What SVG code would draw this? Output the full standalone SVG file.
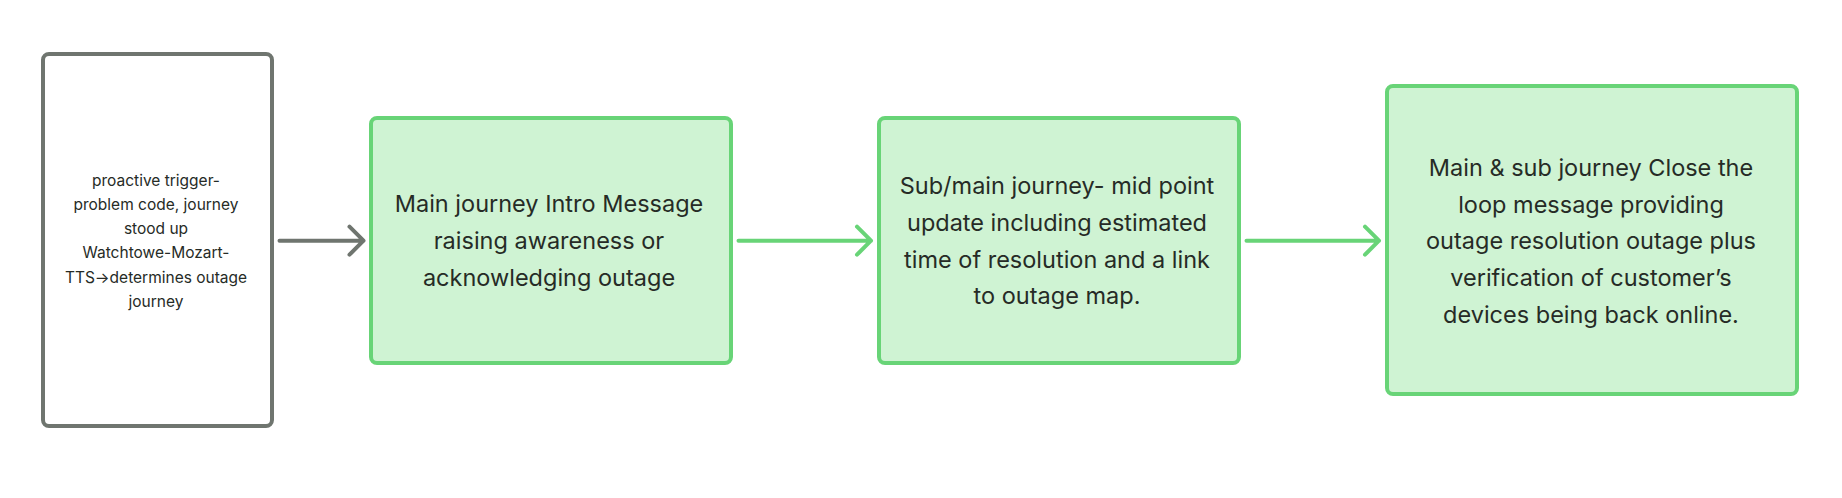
<svg xmlns="http://www.w3.org/2000/svg" width="1842" height="498" viewBox="0 0 1842 498">
<style>
.bg{fill:#ffffff}
.gray{fill:#ffffff;stroke:#6f756f;stroke-width:4}
.green{fill:#cff3d3;stroke:#68d477;stroke-width:4}
.t{font-family:Inter,"Noto Sans",sans-serif;fill:#262b26;text-anchor:middle}
.s{font-size:15.5px}
.l{font-size:23.5px}
.cg{stroke:#6f756f;stroke-width:4;fill:none;stroke-linecap:round;stroke-linejoin:round}
.cgr{stroke:#68d477;stroke-width:4;fill:none;stroke-linecap:round;stroke-linejoin:round}
</style>
<rect class="bg" x="0" y="0" width="1842" height="498"/>
<g id="node-trigger">
<rect class="gray" x="43" y="54" width="229" height="372" rx="6"/>
<text class="t s" x="156" y="185.7">proactive trigger-</text>
<text class="t s" x="156" y="210">problem code, journey</text>
<text class="t s" x="156" y="234.2">stood up</text>
<text class="t s" x="156" y="258.4">Watchtowe-Mozart-</text>
<text class="t s" x="156" y="282.6">TTS→determines outage</text>
<text class="t s" x="156" y="306.8">journey</text>
</g>
<g id="node-intro">
<rect class="green" x="371" y="118" width="360" height="245" rx="6"/>
<text class="t l" x="549" y="212.3">Main journey Intro Message</text>
<text class="t l" x="549" y="249">raising awareness or</text>
<text class="t l" x="549" y="285.7">acknowledging outage</text>
</g>
<g id="node-midpoint">
<rect class="green" x="879" y="118" width="360" height="245" rx="6"/>
<text class="t l" x="1057" y="194.3">Sub/main journey- mid point</text>
<text class="t l" x="1057" y="231">update including estimated</text>
<text class="t l" x="1057" y="267.7">time of resolution and a link</text>
<text class="t l" x="1057" y="304.4">to outage map.</text>
</g>
<g id="node-close">
<rect class="green" x="1387" y="86" width="410" height="308" rx="6"/>
<text class="t l" x="1591" y="176">Main &amp; sub journey Close the</text>
<text class="t l" x="1591" y="212.7">loop message providing</text>
<text class="t l" x="1591" y="249.4">outage resolution outage plus</text>
<text class="t l" x="1591" y="286.1">verification of customer’s</text>
<text class="t l" x="1591" y="322.8">devices being back online.</text>
</g>
<g id="connectors">
<path class="cg" d="M279.5 240.7 H363.5 M349.5 226.7 L363.5 240.7 L349.5 254.7"/>
<path class="cgr" d="M738.5 240.7 H871 M857 226.7 L871 240.7 L857 254.7"/>
<path class="cgr" d="M1246.5 240.7 H1379 M1365 226.7 L1379 240.7 L1365 254.7"/>
</g>
</svg>
